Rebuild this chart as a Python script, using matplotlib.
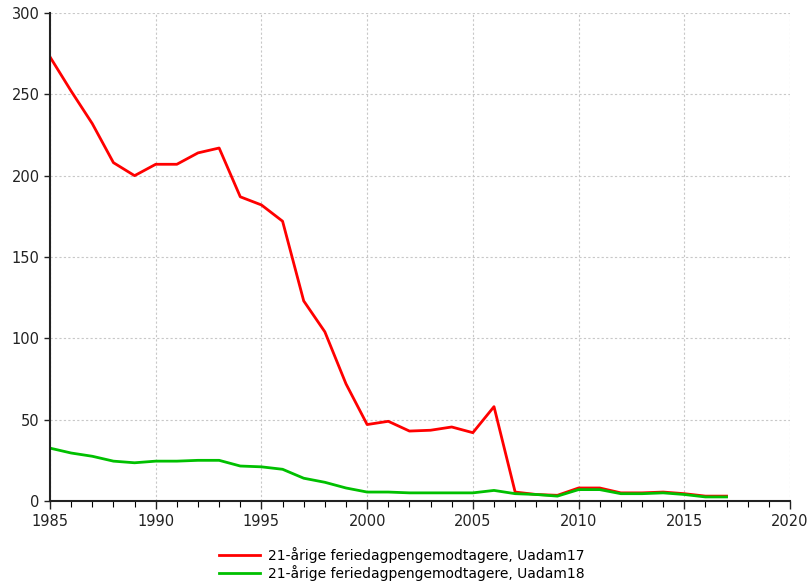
import matplotlib
matplotlib.use("Agg")
import matplotlib.pyplot as plt
from matplotlib.ticker import MultipleLocator

years = list(range(1985, 2018))
uadam17 = [273, 252, 232, 208, 200, 207, 207, 214, 217, 187, 182, 172, 123, 104, 72,
           47, 49, 43, 43.5, 45.5, 42, 58, 5.5, 4, 3.5, 8, 8, 5, 5, 5.5, 4.5, 3, 3]
uadam18 = [32.5, 29.5, 27.5, 24.5, 23.5, 24.5, 24.5, 25, 25, 21.5, 21, 19.5, 14, 11.5, 8,
           5.5, 5.5, 5, 5, 5, 5, 6.5, 4.5, 4, 3, 7, 7, 4.5, 4.5, 5, 4, 2.5, 2.5]
labels = ["21-årige feriedagpengemodtagere, Uadam17",
          "21-årige feriedagpengemodtagere, Uadam18"]

plt.rcParams['font.family'] = ['DejaVu Sans']
fig = plt.figure(figsize=(8.12, 5.85), dpi=100)
ax = fig.add_axes([50/812, 1-501/585, 740/812, 488/585])

ax.plot(years, uadam17, color='#ff0000', lw=2.0, label=labels[0])
ax.plot(years, uadam18, color='#00c000', lw=2.0, label=labels[1])

ax.set_xlim(1985, 2020)
ax.set_ylim(0, 300)
ax.xaxis.set_major_locator(MultipleLocator(5))
ax.xaxis.set_minor_locator(MultipleLocator(1))
ax.yaxis.set_major_locator(MultipleLocator(50))
ax.grid(True, which='major', color='#c8c8c8', linestyle=(0, (2, 2)), lw=0.8)
for s in ['top', 'right']:
    ax.spines[s].set_visible(False)
for s in ['left', 'bottom']:
    ax.spines[s].set_linewidth(1.5)
    ax.spines[s].set_color('#222222')
ax.tick_params(axis='both', which='major', labelsize=10.5, length=6, width=1, colors='#222222')
ax.tick_params(axis='x', which='minor', length=4, width=0.8)
ax.tick_params(axis='y', length=4)

leg = fig.legend(loc='center', bbox_to_anchor=(402/812, 1-564/585), frameon=False,
                 fontsize=10, handlelength=2.9, handletextpad=0.6, labelspacing=0.2)
fig.savefig("out.png", dpi=100)
